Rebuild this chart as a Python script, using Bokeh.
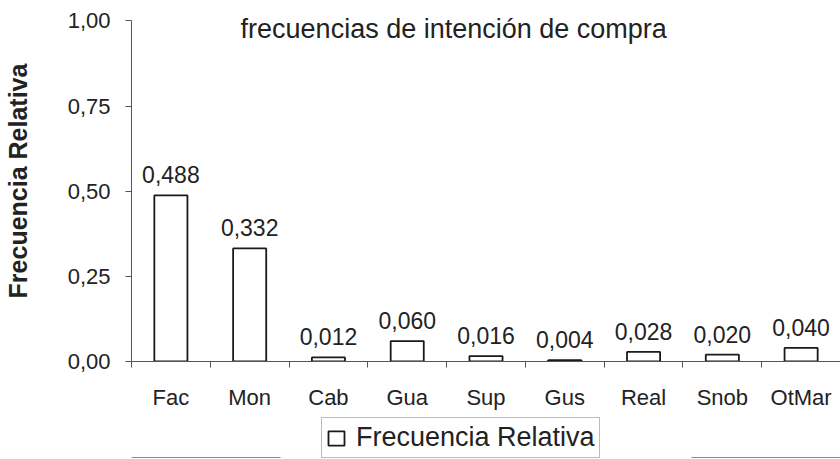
from bokeh.plotting import figure
from bokeh.layouts import column
from bokeh.models import (ColumnDataSource, Range1d, FixedTicker, Legend, LegendItem, Label)
from bokeh.core.properties import value
from bokeh.embed import file_html
from bokeh.resources import INLINE

# ---- data ----
categories = ["Fac", "Mon", "Cab", "Gua", "Sup", "Gus", "Real", "Snob", "OtMar"]
frecuencia_relativa = [0.488, 0.332, 0.012, 0.060, 0.016, 0.004, 0.028, 0.020, 0.040]
y_ticks = [0.0, 0.25, 0.50, 0.75, 1.00]
title_text = "frecuencias de intención de compra"
y_label = "Frecuencia Relativa"
series_name = "Frecuencia Relativa"

FONT = "Liberation Sans"
BAR_STYLE = dict(fill_color="white", line_color="#1a1a1a", line_width=1.8)
LEFT = 131

def fmt(v, d):
    return f"{v:.{d}f}".replace(".", ",")

xs = list(range(len(categories)))
src = ColumnDataSource(dict(
    x=xs,
    top=frecuencia_relativa,
    lab=[fmt(v, 3) for v in frecuencia_relativa],
))

p = figure(frame_width=709, frame_height=361, output_backend="svg", toolbar_location=None,
           x_range=Range1d(-0.5, 8.5), y_range=Range1d(0, 1.06),
           min_border_left=LEFT, min_border_top=0, min_border_right=0, min_border_bottom=0)
p.outline_line_color = None
p.xgrid.visible = False
p.ygrid.visible = False
p.background_fill_color = "white"
p.border_fill_color = "white"

bars = p.vbar(x="x", top="top", width=0.42, bottom=0, source=src, **BAR_STYLE)

p.text(x="x", y="top", text="lab", source=src, text_align="center",
       text_baseline="bottom", y_offset=-12, text_font=value(FONT),
       text_font_size="23px", text_color="#222222")

# y axis (line limited to 0..1)
ya = p.yaxis[0]
ya.ticker = FixedTicker(ticks=y_ticks)
ya.bounds = (y_ticks[0], y_ticks[-1])
ya.major_label_overrides = {t: fmt(t, 2) for t in y_ticks}
ya.major_label_text_font = FONT
ya.major_label_text_font_size = "22px"
ya.major_label_text_color = "#222222"
ya.major_tick_out = 6
ya.major_tick_in = 0
ya.minor_tick_line_color = None
ya.major_label_standoff = 15
ya.axis_line_color = "#555555"
ya.major_tick_line_color = "#555555"
ya.axis_label = y_label
ya.axis_label_text_font = FONT
ya.axis_label_text_font_style = "bold"
ya.axis_label_text_font_size = "25px"
ya.axis_label_text_color = "#222222"
ya.axis_label_standoff = 33

# x axis: labels at category centres, tick marks between categories
xa = p.xaxis[0]
xa.ticker = FixedTicker(ticks=xs, minor_ticks=[i - 0.5 for i in range(len(categories) + 1)])
xa.major_label_overrides = {i: c for i, c in enumerate(categories)}
xa.major_label_text_font = FONT
xa.major_label_text_font_size = "22px"
xa.major_label_text_color = "#222222"
xa.major_tick_line_color = None
xa.major_tick_out = 0
xa.major_tick_in = 0
xa.minor_tick_out = 6
xa.minor_tick_in = 0
xa.minor_tick_line_color = "#555555"
xa.axis_line_color = "#555555"
xa.major_label_standoff = 17

# title overlapping the top of the plot area
p.add_layout(Label(x=3.59, y=1.0, y_offset=-8, text=title_text, text_align="center",
                   text_baseline="alphabetic", text_font=FONT, text_font_size="27px",
                   text_color="#222222"))

# legend strip below the chart (same left border so the column keeps alignment)
leg = figure(width=840, height=46, output_backend="svg", toolbar_location=None,
             x_range=Range1d(0, 1), y_range=Range1d(10, 11),
             x_axis_location=None, y_axis_location=None,
             min_border_left=LEFT, min_border_top=0, min_border_right=0, min_border_bottom=0)
leg.outline_line_color = None
leg.grid.visible = False
leg.background_fill_color = "white"
leg.border_fill_color = "white"
# same bars, drawn outside this strip's visible range; only feeds the legend glyph
leg_bars = leg.vbar(x="x", top="top", width=0.42, bottom=0, source=src, **BAR_STYLE)

legend = Legend(items=[LegendItem(label=series_name, renderers=[leg_bars])],
                location=(190, 0), orientation="horizontal",
                label_text_font=FONT, label_text_font_size="27px", label_text_color="#222222",
                glyph_width=20, glyph_height=18, label_standoff=10,
                padding=4, margin=0, spacing=0,
                border_line_color="#777777", border_line_width=1,
                background_fill_color="white")
leg.add_layout(legend, "center")

layout = column(p, leg, spacing=0)
open("out.html", "w").write(file_html(layout, INLINE))
